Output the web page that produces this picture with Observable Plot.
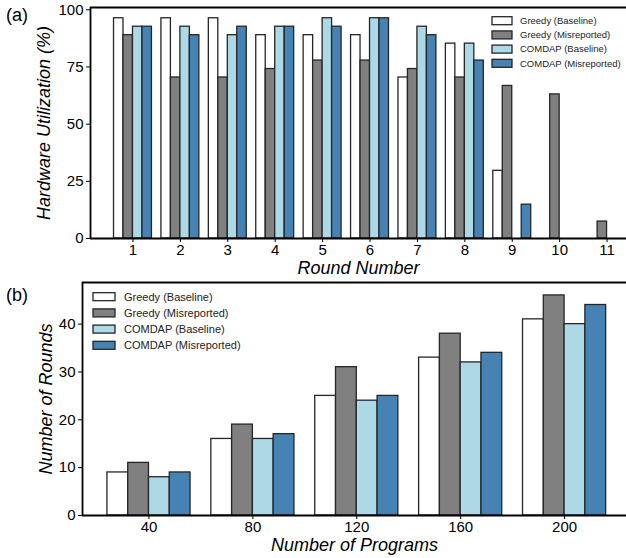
<!DOCTYPE html>
<html>
<head>
<meta charset="utf-8">
<script src="https://cdn.jsdelivr.net/npm/d3@7"></script>
<script src="https://cdn.jsdelivr.net/npm/@observablehq/plot@0.6"></script>
<style>
  html, body { margin: 0; padding: 0; background: #fff; }
  #wrap { position: relative; width: 626px; height: 558px; overflow: hidden; font-family: "Liberation Sans", Arial, sans-serif; }
  #wrap > svg { position: absolute; left: 0; }
  #wrap g[aria-label*="axis"] text { font-size: 15px; fill: #000; }
</style>
</head>
<body>
<div id="wrap"></div>
<script>
// ---- data ----
const seriesNames = ["Greedy (Baseline)", "Greedy (Misreported)", "COMDAP (Baseline)", "COMDAP (Misreported)"];
const seriesColors = ["#ffffff", "#808080", "#add8e6", "#4682b4"];

const rounds = [1, 2, 3, 4, 5, 6, 7, 8, 9, 10, 11];
const utilGreedyBaseline    = [96.3, 96.3, 96.3, 88.9, 88.9, 88.9, 70.4, 85.2, 29.6, 0, 0];
const utilGreedyMisreported = [88.9, 70.4, 70.4, 74.1, 77.8, 77.8, 74.1, 70.4, 66.7, 63.0, 7.4];
const utilComdapBaseline    = [92.6, 92.6, 88.9, 92.6, 96.3, 96.3, 92.6, 85.2, 0, 0, 0];
const utilComdapMisreported = [92.6, 88.9, 92.6, 92.6, 92.6, 96.3, 88.9, 77.8, 14.8, 0, 0];
const utilTicks = [0, 25, 50, 75, 100];

const programs = [40, 80, 120, 160, 200];
const roundsGreedyBaseline    = [9, 16, 25, 33, 41];
const roundsGreedyMisreported = [11, 19, 31, 38, 46];
const roundsComdapBaseline    = [8, 16, 24, 32, 40];
const roundsComdapMisreported = [9, 17, 25, 34, 44];
const roundsTicks = [0, 10, 20, 30, 40];

// ---- build tables ----
const barW = 0.2;
function buildTable(cats, seriesArrays) {
  const rows = [];
  seriesArrays.forEach((arr, si) => {
    arr.forEach((v, ci) => {
      if (v > 0) rows.push({pos: cats[ci], series: seriesNames[si], si, value: v,
        x1: cats[ci] + (si - 2) * barW, x2: cats[ci] + (si - 1) * barW});
    });
  });
  return rows;
}
const topData = buildTable(rounds, [utilGreedyBaseline, utilGreedyMisreported, utilComdapBaseline, utilComdapMisreported]);
const progIdx = programs.map((p, i) => i);
const botData = buildTable(progIdx, [roundsGreedyBaseline, roundsGreedyMisreported, roundsComdapBaseline, roundsComdapMisreported]);

const wrap = document.getElementById("wrap");
const font = "'Liberation Sans', Arial, sans-serif";
const baseStyle = {fontFamily: font, fontSize: "15px", background: "transparent", color: "#000", overflow: "visible"};
const axisStroke = 1.8;

// ---- top chart ----
const topXDomain = [0.104, 11.41];
const topYMax = 101;
const chartA = Plot.plot({
  width: 626, height: 280,
  marginLeft: 90, marginRight: 0, marginTop: 7, marginBottom: 42,
  style: baseStyle,
  x: {type: "linear", domain: topXDomain, ticks: rounds, tickFormat: d => String(d), tickSize: 4, tickPadding: 2, label: null},
  y: {domain: [0, topYMax], ticks: utilTicks, tickSize: 4, tickPadding: 3, label: null},
  color: {domain: seriesNames, range: seriesColors},
  marks: [
    Plot.rect(topData, {x1: "x1", x2: "x2", y1: 0, y2: "value", fill: "series", stroke: "#262626", strokeWidth: 1.3}),
    Plot.ruleY([0], {stroke: "#000", strokeWidth: axisStroke}),
    Plot.ruleY([topYMax], {stroke: "#000", strokeWidth: axisStroke}),
    Plot.ruleX([topXDomain[0]], {stroke: "#000", strokeWidth: axisStroke}),
    Plot.text(["Round Number"], {frameAnchor: "bottom", dy: 30, lineAnchor: "middle", textAnchor: "middle", fontSize: 18, fontStyle: "italic", text: d => d}),
    Plot.text(["Hardware Utilization (%)"], {frameAnchor: "left", dx: -46, rotate: -90, textAnchor: "middle", lineAnchor: "middle", fontSize: 18, fontStyle: "italic", text: d => d})
  ]
});
chartA.style.top = "0px";
wrap.appendChild(chartA);

// ---- bottom chart ----
const botXDomain = [-0.64, 4.596];
const botYMax = 48.7;
const chartB = Plot.plot({
  width: 626, height: 288,
  marginLeft: 82, marginRight: 0, marginTop: 12, marginBottom: 43,
  style: baseStyle,
  x: {type: "linear", domain: botXDomain, ticks: progIdx, tickFormat: i => String(programs[i]), tickSize: 4, tickPadding: 2, label: null},
  y: {domain: [0, botYMax], ticks: roundsTicks, tickSize: 4, tickPadding: 3, label: null},
  color: {domain: seriesNames, range: seriesColors},
  marks: [
    Plot.rect(botData, {x1: "x1", x2: "x2", y1: 0, y2: "value", fill: "series", stroke: "#262626", strokeWidth: 1.3}),
    Plot.ruleY([0], {stroke: "#000", strokeWidth: axisStroke}),
    Plot.ruleY([botYMax], {stroke: "#000", strokeWidth: axisStroke}),
    Plot.ruleX([botXDomain[0]], {stroke: "#000", strokeWidth: axisStroke}),
    Plot.text(["Number of Programs"], {frameAnchor: "bottom", dy: 30, lineAnchor: "middle", textAnchor: "middle", fontSize: 18, fontStyle: "italic", text: d => d}),
    Plot.text(["Number of Rounds"], {frameAnchor: "left", dx: -36, rotate: -90, textAnchor: "middle", lineAnchor: "middle", fontSize: 18, fontStyle: "italic", text: d => d})
  ]
});
chartB.style.top = "270px";
wrap.appendChild(chartB);

// ---- overlay: panel labels and legends ----
const ov = d3.select(wrap).append("svg")
  .attr("width", 626).attr("height", 558)
  .style("position", "absolute").style("left", "0px").style("top", "0px")
  .style("font-family", font);

ov.append("text").attr("x", 6).attr("y", 15).attr("dy", "0.35em").attr("font-size", 18).text("(a)");
ov.append("text").attr("x", 6).attr("y", 295).attr("dy", "0.35em").attr("font-size", 18).text("(b)");

function legend(x0, y0, step, boxW, boxH, textX, fs) {
  seriesNames.forEach((name, i) => {
    const cy = y0 + i * step;
    ov.append("rect").attr("x", x0).attr("y", cy - boxH / 2).attr("width", boxW).attr("height", boxH)
      .attr("fill", seriesColors[i]).attr("stroke", "#262626").attr("stroke-width", 1.3);
    ov.append("text").attr("x", textX).attr("y", cy).attr("dy", "0.35em").attr("font-size", fs)
      .attr("fill", "#222").text(name);
  });
}
legend(492, 20.7, 14.2, 20, 8, 520, 9.5);
legend(93, 296.7, 16.2, 22, 8, 124, 11);
</script>
</body>
</html>
